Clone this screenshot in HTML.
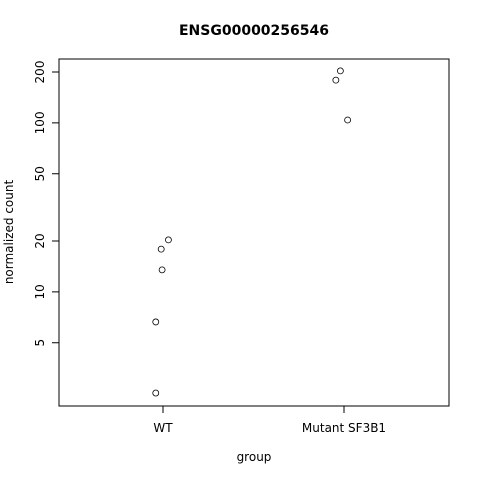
<!DOCTYPE html>
<html><head><meta charset="utf-8"><style>body{margin:0;background:#fff}svg{display:block;font-family:"DejaVu Sans","Liberation Sans",sans-serif}</style></head>
<body>
<svg id="chart" width="480" height="480" viewBox="0 0 480 480">
<text x="254" y="35" text-anchor="middle" font-size="14" font-weight="bold">ENSG00000256546</text>
<rect x="59" y="59" width="390" height="347" fill="none" stroke="#000" stroke-width="1"/>
<text x="254" y="461" text-anchor="middle" font-size="12">group</text>
<text transform="translate(13,232) rotate(-90)" text-anchor="middle" font-size="12">normalized count</text>
<g id="axes"></g><g id="points"></g>
</svg>
<script>
const categories=["WT","Mutant SF3B1"];
const groupIdx=[0,0,0,0,0,1,1,1];
const values=[2.52,6.64,13.5,17.9,20.3,203,179,104];
const jitter=[-0.04,-0.04,-0.005,-0.01,0.03,-0.02,-0.045,0.02];
const yTicks=[5,10,20,50,100,200];
const ns="http://www.w3.org/2000/svg";
function xs(g){return 163+g*181;}
function ys(v){return 72-(Math.log10(v)-Math.log10(200))*169;}
const axes=document.getElementById('axes'),pts=document.getElementById('points');
function mk(t,a,p){const e=document.createElementNS(ns,t);for(const k in a)e.setAttribute(k,a[k]);p.appendChild(e);return e;}
categories.forEach((c,i)=>{
 const l=mk('line',{x1:xs(i),x2:xs(i),y1:406,y2:413,stroke:'#000'},axes);
 
 
 const t=mk('text',{x:xs(i),y:432,'text-anchor':'middle','font-size':12},axes);
 t.textContent=c;
 
 
});
yTicks.forEach(v=>{
 const y=ys(v);
 const l=mk('line',{x1:52,x2:59,y1:y,y2:y,stroke:'#000'},axes);
 
 
 const t=mk('text',{transform:`translate(44,${y}) rotate(-90)`,'text-anchor':'middle','font-size':12},axes);
 t.textContent=v;
 
 
});
values.forEach((v,i)=>{
 const c=mk('circle',{cx:xs(groupIdx[i]+jitter[i]),cy:ys(v),r:3,fill:'none',stroke:'#000','stroke-width':0.8},pts);
 
 
});
</script>
</body></html>
